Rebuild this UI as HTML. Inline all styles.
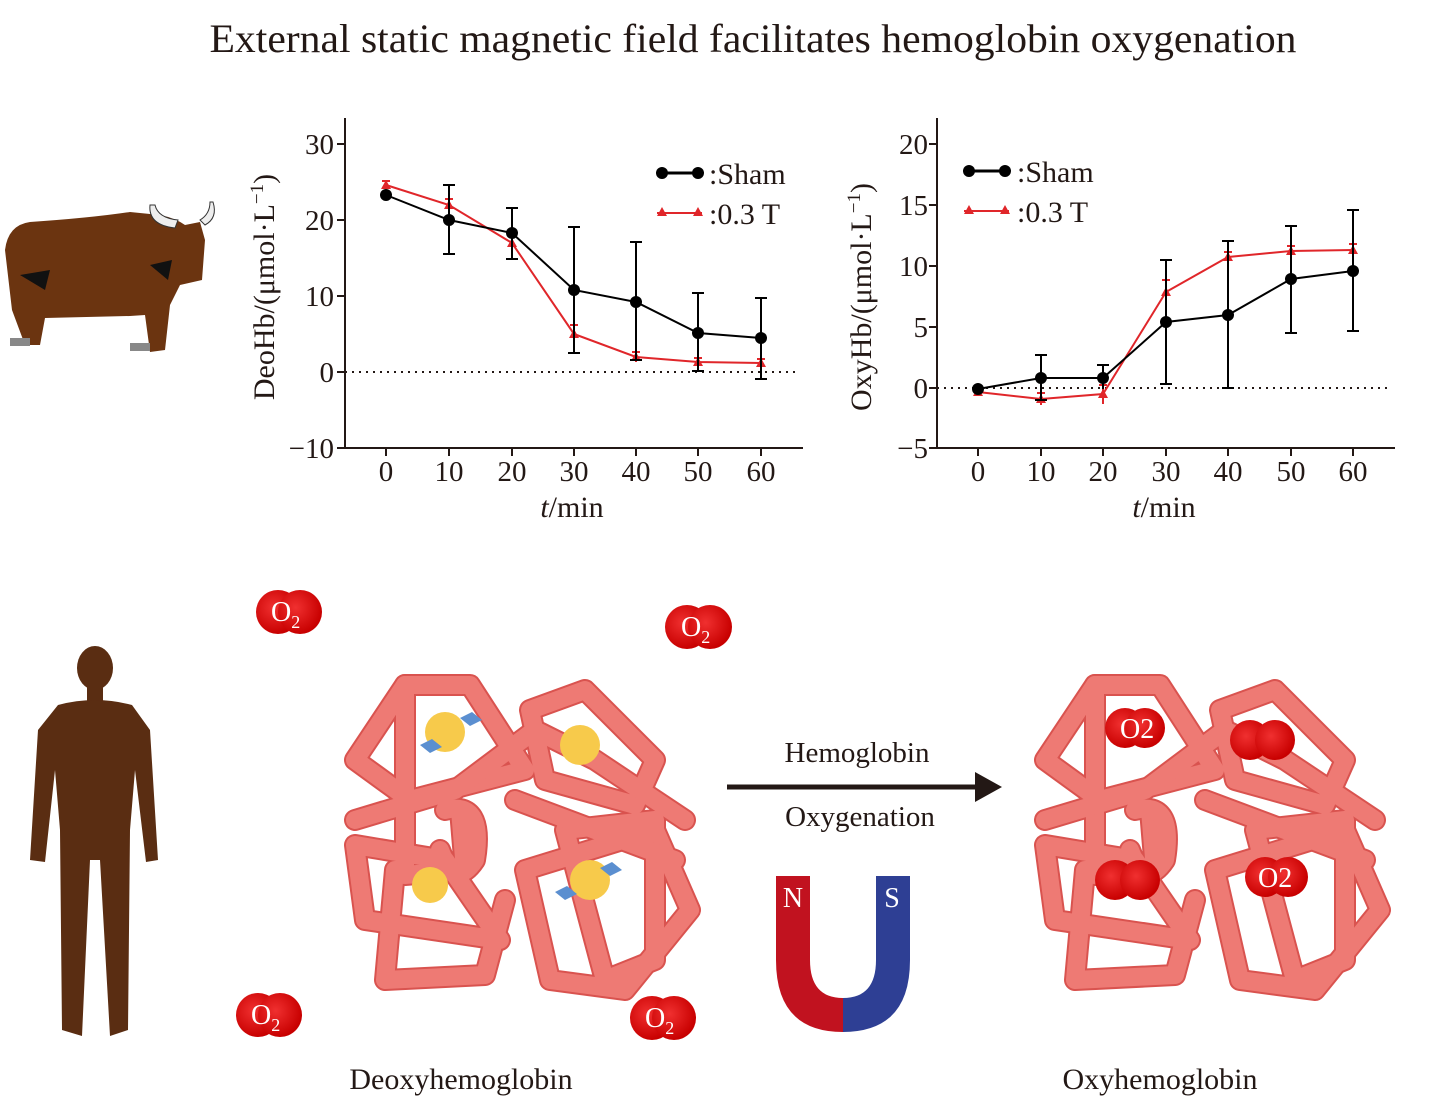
<!DOCTYPE html>
<html><head><meta charset="utf-8"><style>
html,body{margin:0;padding:0;background:#fff}
svg{display:block}
text{font-family:"Liberation Serif",serif;fill:#231815}
</style></head><body>
<svg width="1430" height="1112" viewBox="0 0 1430 1112" xmlns="http://www.w3.org/2000/svg">
<defs>
<g id="hb">
 <g fill="none" stroke-linejoin="round" stroke-linecap="round" stroke="#d9534f" stroke-width="22">
  <path d="M70,25 L135,25 L190,110 L75,140 L20,100 Z"/>
  <path d="M70,25 L70,215 L130,210 L125,150"/>
  <path d="M195,50 L250,30 L320,100 L300,145 L210,120 Z"/>
  <path d="M20,185 L110,200 L165,280 L30,260 Z"/>
  <path d="M60,210 L50,320 L150,315 L170,240"/>
  <path d="M190,210 L320,170 L355,250 L290,330 L215,320 Z"/>
  <path d="M230,170 L320,160 L320,300 L270,320 Z"/>
  <path d="M20,160 L120,130 L200,70 L260,100 L350,160"/>
  <path d="M110,150 Q150,140 140,200 Q120,230 105,190"/>
  <path d="M180,140 L340,200"/>
 </g>
 <g fill="none" stroke-linejoin="round" stroke-linecap="round" stroke="#ee7a74" stroke-width="18">
  <path d="M70,25 L135,25 L190,110 L75,140 L20,100 Z"/>
  <path d="M70,25 L70,215 L130,210 L125,150"/>
  <path d="M195,50 L250,30 L320,100 L300,145 L210,120 Z"/>
  <path d="M20,185 L110,200 L165,280 L30,260 Z"/>
  <path d="M60,210 L50,320 L150,315 L170,240"/>
  <path d="M190,210 L320,170 L355,250 L290,330 L215,320 Z"/>
  <path d="M230,170 L320,160 L320,300 L270,320 Z"/>
  <path d="M20,160 L120,130 L200,70 L260,100 L350,160"/>
  <path d="M110,150 Q150,140 140,200 Q120,230 105,190"/>
  <path d="M180,140 L340,200"/>
 </g>
</g>
<radialGradient id="o2g" cx="40%" cy="40%" r="60%"><stop offset="0" stop-color="#f03030"/><stop offset="1" stop-color="#c80000"/></radialGradient>
</defs>

<text x="753" y="52" font-size="40" text-anchor="middle" textLength="1087" lengthAdjust="spacingAndGlyphs">External static magnetic field facilitates hemoglobin oxygenation</text>

<!-- Yak -->
<g>
 <path d="M5,250 Q8,225 30,222 Q90,218 130,212 L160,215 Q175,218 185,225 L200,222 L205,240 L202,280 L180,285 L170,305 L165,350 L150,352 L145,315 L130,316 L45,318 L40,345 L25,345 L12,310 Z" fill="#6b3410"/>
 <path d="M150,205 Q148,225 175,228 L178,220 Q158,218 155,205 Z" fill="#eee" stroke="#333" stroke-width="1"/>
 <path d="M213,202 Q218,218 205,225 L200,220 Q210,214 210,202 Z" fill="#eee" stroke="#333" stroke-width="1"/>
 <rect x="10" y="338" width="20" height="8" fill="#888"/><rect x="130" y="343" width="20" height="8" fill="#888"/>
 <path d="M20,275 L50,270 L45,290 Z M150,265 L172,260 L168,280 Z" fill="#111"/>
</g>

<!-- Human -->
<g fill="#5a2d12">
 <ellipse cx="95" cy="668" rx="18" ry="22"/>
 <rect x="87" y="685" width="16" height="18"/>
 <path d="M58,705 Q95,695 132,705 L150,730 L158,860 L146,862 L135,770 L130,830 L128,1030 L110,1036 L100,860 L90,860 L82,1036 L62,1030 L60,830 L55,770 L45,862 L30,860 L38,730 Z"/>
</g>

<!-- Left chart -->
<g stroke="#231815" stroke-width="2" fill="none">
 <path d="M345,118 V448 H803"/>
 <path d="M337,144 H345 M337,220 H345 M337,296 H345 M337,372 H345 M337,448 H345"/>
 <path d="M386,448 V456 M449,448 V456 M512,448 V456 M574,448 V456 M636,448 V456 M698,448 V456 M761,448 V456"/>
 <path d="M345,372 H800" stroke-dasharray="2,5"/>
</g>
<g font-size="29" text-anchor="end">
 <text x="334" y="154">30</text><text x="334" y="230">20</text><text x="334" y="306">10</text><text x="334" y="382">0</text><text x="334" y="458">−10</text>
</g>
<g font-size="29" text-anchor="middle">
 <text x="386" y="481">0</text><text x="449" y="481">10</text><text x="512" y="481">20</text><text x="574" y="481">30</text><text x="636" y="481">40</text><text x="698" y="481">50</text><text x="761" y="481">60</text>
 <text x="572" y="517" font-size="30"><tspan font-style="italic">t</tspan>/min</text>
</g>
<text transform="translate(274,287) rotate(-90)" font-size="30" text-anchor="middle">DeoHb/(μmol·L<tspan dy="-11" font-size="19">−1</tspan><tspan dy="11">)</tspan></text>
<g stroke="#e0262a" stroke-width="2" fill="none">
 <path d="M386,185 L449,205 L512,243 L574,334 L636,357 L698,362 L761,363"/>
 <path d="M382,181 H390 M386,181 V189 M445,199 H453 M449,199 V211 M508,236 H516 M512,236 V250 M570,325 H578 M574,325 V343 M632,352 H640 M636,352 V362 M694,358 H702 M698,358 V366 M757,359 H765 M761,359 V367"/>
</g>
<g fill="#e0262a">
 <path d="M386,180 l5,9 h-10z M449,200 l5,9 h-10z M512,238 l5,9 h-10z M574,329 l5,9 h-10z M636,352 l5,9 h-10z M698,357 l5,9 h-10z M761,358 l5,9 h-10z"/>
</g>
<g stroke="#000" stroke-width="2" fill="none">
 <path d="M386,195 L449,220 L512,233 L574,290 L636,302 L698,333 L761,338"/>
 <path d="M443,254 H455 M449,254 V185 M443,185 H455 M506,259 H518 M512,259 V208 M506,208 H518 M568,353 H580 M574,353 V227 M568,227 H580 M630,360 H642 M636,360 V242 M630,242 H642 M692,371 H704 M698,371 V293 M692,293 H704 M755,379 H767 M761,379 V298 M755,298 H767"/>
</g>
<g fill="#000">
 <circle cx="386" cy="195" r="6"/><circle cx="449" cy="220" r="6"/><circle cx="512" cy="233" r="6"/><circle cx="574" cy="290" r="6"/><circle cx="636" cy="302" r="6"/><circle cx="698" cy="333" r="6"/><circle cx="761" cy="338" r="6"/>
</g>
<g>
 <path d="M657,173 H702" stroke="#000" stroke-width="3"/><circle cx="662" cy="173" r="6"/><circle cx="698" cy="173" r="6"/>
 <text x="709" y="184" font-size="30">:Sham</text>
 <path d="M657,213 H702" stroke="#e0262a" stroke-width="2"/><path d="M662,207 l5,9 h-10z M698,207 l5,9 h-10z" fill="#e0262a"/>
 <text x="709" y="224" font-size="30">:0.3 T</text>
</g>

<!-- Right chart -->
<g stroke="#231815" stroke-width="2" fill="none">
 <path d="M937,118 V448 H1395"/>
 <path d="M929,144 H937 M929,205 H937 M929,266 H937 M929,327 H937 M929,388 H937 M929,448 H937"/>
 <path d="M978,448 V456 M1041,448 V456 M1103,448 V456 M1166,448 V456 M1228,448 V456 M1291,448 V456 M1353,448 V456"/>
 <path d="M937,388 H1392" stroke-dasharray="2,5"/>
</g>
<g font-size="29" text-anchor="end">
 <text x="928" y="154">20</text><text x="928" y="215">15</text><text x="928" y="276">10</text><text x="928" y="337">5</text><text x="928" y="398">0</text><text x="928" y="458">−5</text>
</g>
<g font-size="29" text-anchor="middle">
 <text x="978" y="481">0</text><text x="1041" y="481">10</text><text x="1103" y="481">20</text><text x="1166" y="481">30</text><text x="1228" y="481">40</text><text x="1291" y="481">50</text><text x="1353" y="481">60</text>
 <text x="1164" y="517" font-size="30"><tspan font-style="italic">t</tspan>/min</text>
</g>
<text transform="translate(871,297) rotate(-90)" font-size="30" text-anchor="middle">OxyHb/(μmol·L<tspan dy="-11" font-size="19">−1</tspan><tspan dy="11">)</tspan></text>
<g stroke="#e0262a" stroke-width="2" fill="none">
 <path d="M978,392 L1041,399 L1103,394 L1166,292 L1228,257 L1291,251 L1353,250"/>
 <path d="M1037,393 H1045 M1041,393 V405 M1099,385 H1107 M1103,385 V404 M1162,280 H1170 M1166,280 V302 M1224,252 H1232 M1228,252 V264 M1287,246 H1295 M1291,246 V258 M1349,244 H1357 M1353,244 V257"/>
</g>
<g fill="#e0262a">
 <path d="M978,387 l5,9 h-10z M1041,394 l5,9 h-10z M1103,389 l5,9 h-10z M1166,287 l5,9 h-10z M1228,252 l5,9 h-10z M1291,246 l5,9 h-10z M1353,245 l5,9 h-10z"/>
</g>
<g stroke="#000" stroke-width="2" fill="none">
 <path d="M978,389 L1041,378 L1103,378 L1166,322 L1228,315 L1291,279 L1353,271"/>
 <path d="M1035,355 H1047 M1041,355 V400 M1035,400 H1047 M1097,365 H1109 M1103,365 V389 M1160,260 H1172 M1166,260 V384 M1160,384 H1172 M1222,241 H1234 M1228,241 V388 M1222,388 H1234 M1285,226 H1297 M1291,226 V333 M1285,333 H1297 M1347,210 H1359 M1353,210 V331 M1347,331 H1359"/>
</g>
<g fill="#000">
 <circle cx="978" cy="389" r="6"/><circle cx="1041" cy="378" r="6"/><circle cx="1103" cy="378" r="6"/><circle cx="1166" cy="322" r="6"/><circle cx="1228" cy="315" r="6"/><circle cx="1291" cy="279" r="6"/><circle cx="1353" cy="271" r="6"/>
</g>
<g>
 <path d="M964,171 H1009" stroke="#000" stroke-width="3"/><circle cx="969" cy="171" r="6"/><circle cx="1005" cy="171" r="6"/>
 <text x="1017" y="182" font-size="30">:Sham</text>
 <path d="M964,211 H1009" stroke="#e0262a" stroke-width="2"/><path d="M969,205 l5,9 h-10z M1005,205 l5,9 h-10z" fill="#e0262a"/>
 <text x="1017" y="222" font-size="30">:0.3 T</text>
</g>

<!-- Hemoglobins -->
<use href="#hb" transform="translate(335,660)"/>
<g>
 <circle cx="445" cy="732" r="20" fill="#f7ca4b"/><circle cx="580" cy="745" r="20" fill="#f7ca4b"/>
 <circle cx="430" cy="885" r="18" fill="#f7ca4b"/><circle cx="590" cy="880" r="20" fill="#f7ca4b"/>
 <path d="M420,745 l12,-6 l10,8 l-12,6z M460,718 l12,-6 l10,8 l-12,6z M555,892 l12,-6 l10,8 l-12,6z M600,868 l12,-6 l10,8 l-12,6z" fill="#5b8fd0"/>
</g>
<use href="#hb" transform="translate(1025,660)"/>
<g fill="url(#o2g)">
 <circle cx="1125" cy="728" r="20"/><circle cx="1145" cy="728" r="20"/>
 <circle cx="1250" cy="740" r="20"/><circle cx="1275" cy="740" r="20"/>
 <circle cx="1115" cy="880" r="20"/><circle cx="1140" cy="880" r="20"/>
 <circle cx="1265" cy="877" r="20"/><circle cx="1288" cy="877" r="20"/>
</g>
<text x="1120" y="738" font-size="28" style="fill:#fff">O2</text>
<text x="1258" y="887" font-size="28" style="fill:#fff">O2</text>

<!-- free O2 -->
<g fill="url(#o2g)">
 <circle cx="278" cy="612" r="22"/><circle cx="300" cy="612" r="22"/>
 <circle cx="687" cy="627" r="22"/><circle cx="710" cy="627" r="22"/>
 <circle cx="258" cy="1015" r="22"/><circle cx="280" cy="1015" r="22"/>
 <circle cx="652" cy="1018" r="22"/><circle cx="674" cy="1018" r="22"/>
</g>
<g font-size="28">
 <text x="271" y="621" style="fill:#fff">O<tspan font-size="18" dy="7">2</tspan></text>
 <text x="681" y="636" style="fill:#fff">O<tspan font-size="18" dy="7">2</tspan></text>
 <text x="251" y="1024" style="fill:#fff">O<tspan font-size="18" dy="7">2</tspan></text>
 <text x="645" y="1027" style="fill:#fff">O<tspan font-size="18" dy="7">2</tspan></text>
</g>

<!-- arrow -->
<path d="M727,787 H980" stroke="#231815" stroke-width="5"/>
<path d="M975,772 L1002,787 L975,802 Z" fill="#231815"/>
<text x="857" y="762" font-size="29" text-anchor="middle">Hemoglobin</text>
<text x="860" y="826" font-size="29" text-anchor="middle">Oxygenation</text>

<!-- magnet -->
<path d="M776,876 H810 V960 Q810,998 843,998 V1032 Q776,1032 776,960 Z" fill="#c1121f"/>
<path d="M843,998 Q876,998 876,960 V876 H910 V960 Q910,1032 843,1032 Z" fill="#2e3f94"/>
<text x="793" y="907" font-size="28" text-anchor="middle" style="fill:#fff">N</text>
<text x="892" y="907" font-size="28" text-anchor="middle" style="fill:#fff">S</text>

<text x="461" y="1089" font-size="30" text-anchor="middle">Deoxyhemoglobin</text>
<text x="1160" y="1089" font-size="30" text-anchor="middle">Oxyhemoglobin</text>
</svg>
</body></html>
